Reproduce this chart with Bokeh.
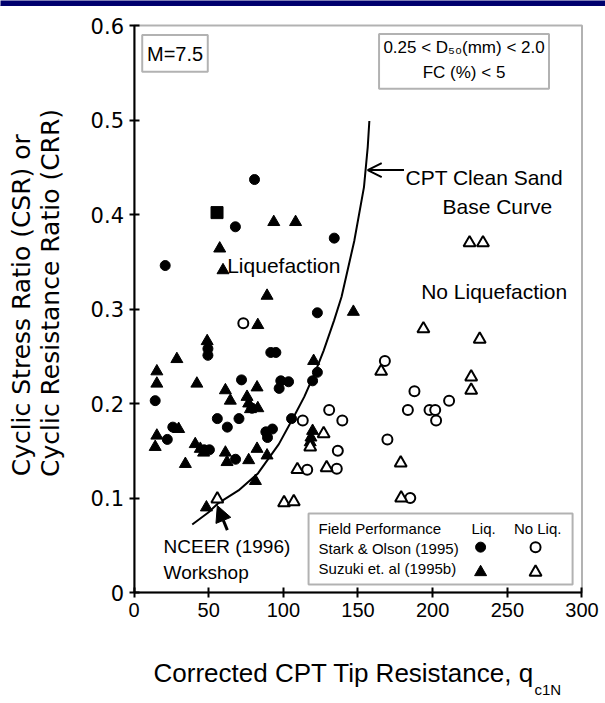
import math
from bokeh.plotting import figure
from bokeh.models import (Label, BoxAnnotation, Arrow, OpenHead, NormalHead, FixedTicker,
                          CustomJSTickFormatter, Range1d)
from bokeh.embed import file_html
from bokeh.resources import INLINE

# ---------------- data ----------------
x_ticks = [0, 50, 100, 150, 200, 250, 300]
y_ticks = [0, 0.1, 0.2, 0.3, 0.4, 0.5, 0.6]

# CPT clean sand base curve
curve_x = [39, 50, 56, 70, 83, 97, 107, 114, 121, 127, 134, 139, 147.5, 154, 156.5, 157.6]
curve_y = [0.072, 0.085, 0.094, 0.108, 0.126, 0.157, 0.186, 0.207, 0.232, 0.256, 0.288, 0.313, 0.372, 0.429, 0.471, 0.499]

# Stark & Olson (1995) - liquefaction (filled circles)
stark_liq_x = [80.7, 67.9, 134.1, 20.9, 122.8, 49.5, 49.5, 91.6, 95.0, 14.2, 72.0, 97.2, 98.3, 103.5,
               119.6, 122.8, 55.8, 62.5, 70.3, 105.5, 88.3, 92.7, 89.4, 79.0, 22.3, 26.0, 47.0, 50.5, 68.0]
stark_liq_y = [0.437, 0.387, 0.375, 0.346, 0.296, 0.258, 0.251, 0.254, 0.254, 0.203, 0.225, 0.216, 0.224, 0.223,
               0.224, 0.233, 0.184, 0.175, 0.184, 0.184, 0.170, 0.173, 0.164, 0.195, 0.162, 0.175, 0.151, 0.151, 0.141]

# Stark & Olson (1995) - no liquefaction (open circles)
stark_noliq_x = [73.2, 113.0, 130.7, 139.5, 136.5, 116.0, 135.8, 168.0, 187.8, 183.4, 169.7, 197.9, 201.7,
                 202.3, 211.0, 185.0]
stark_noliq_y = [0.285, 0.182, 0.193, 0.182, 0.150, 0.130, 0.131, 0.245, 0.213, 0.193, 0.162, 0.193, 0.193,
                 0.182, 0.203, 0.100]

# Suzuki et al (1995b) - liquefaction (filled triangles)
suzuki_liq_x = [93.6, 108.2, 57.4, 59.6, 89.1, 82.9, 146.9, 49.0, 28.7, 15.3, 15.3, 42.1, 82.4, 61.2, 64.5,
                75.7, 76.8, 78.0, 82.9, 120.3, 15.3, 14.2, 29.9, 41.0, 44.4, 46.6, 34.4, 61.2, 62.3, 76.8,
                82.4, 89.1, 81.3, 48.5, 119.6, 118.5, 118.0]
suzuki_liq_y = [0.392, 0.392, 0.364, 0.341, 0.314, 0.283, 0.297, 0.266, 0.247, 0.234, 0.221, 0.221, 0.217, 0.214,
                0.203, 0.207, 0.200, 0.194, 0.195, 0.245, 0.166, 0.154, 0.173, 0.157, 0.152, 0.148, 0.136,
                0.148, 0.138, 0.140, 0.152, 0.145, 0.118, 0.090, 0.171, 0.164, 0.159]

# Suzuki et al (1995b) - no liquefaction (open triangles)
suzuki_noliq_x = [55.8, 100.5, 107.0, 109.4, 129.0, 127.0, 118.0, 165.5, 178.6, 178.9, 193.8, 231.5, 225.8,
                  225.8, 224.7, 233.7]
suzuki_noliq_y = [0.099, 0.095, 0.096, 0.130, 0.132, 0.168, 0.154, 0.234, 0.137, 0.100, 0.279, 0.268, 0.228,
                  0.214, 0.370, 0.370]

# single filled square
square_x = [55.6]
square_y = [0.402]

FONT = "Liberation Sans"
X_LO, X_HI = -89.40, 315.74
Y_LO, Y_HI = -0.11746, 0.62646
BANNER_BOTTOM = 0.6212

# frame covers the whole canvas; axes are pinned at x=0 / y=0
p = figure(width=605, height=703, x_range=Range1d(X_LO, X_HI), y_range=Range1d(Y_LO, Y_HI),
           output_backend="svg", toolbar_location=None,
           min_border=0, min_border_left=0, min_border_right=0, min_border_top=0, min_border_bottom=0)
p.xgrid.visible = False
p.ygrid.visible = False
p.outline_line_color = "white"
p.outline_line_alpha = 1
p.outline_line_width = 1
p.background_fill_color = "white"
p.border_fill_color = "white"

for ax in (p.xaxis, p.yaxis):
    ax.fixed_location = 0
    ax.axis_line_width = 2
    ax.axis_line_color = "black"
    ax.major_tick_line_width = 2
    ax.major_tick_line_color = "black"
    ax.major_tick_in = 5
    ax.major_tick_out = 5
    ax.minor_tick_in = 0
    ax.minor_tick_out = 0
    ax.major_label_text_color = "black"

p.xaxis.bounds = (0, 300)
p.xaxis.ticker = FixedTicker(ticks=x_ticks)
p.xaxis.major_label_text_font = FONT
p.xaxis.major_label_text_font_size = "20px"
p.xaxis.major_label_standoff = 5

p.yaxis.bounds = (0, 0.6)
p.yaxis.ticker = FixedTicker(ticks=y_ticks)
p.yaxis.formatter = CustomJSTickFormatter(code="return tick == 0 ? '0' : tick.toFixed(1);")
p.yaxis.major_label_text_font = "DejaVu Sans"
p.yaxis.major_label_text_font_size = "21px"
p.yaxis.major_label_standoff = 5

# top banner (glyph) and plot frame
p.quad(left=[X_LO - 5], right=[X_HI + 5], bottom=[BANNER_BOTTOM], top=[Y_HI + 0.01],
       fill_color="#00006e", line_color="#00006e")
p.add_layout(BoxAnnotation(left=0, right=300, bottom=0, top=0.6, fill_alpha=0,
                           line_color="black", line_width=2))

# curve
p.line(curve_x, curve_y, line_width=2, line_color="black")

# points
p.scatter(stark_liq_x, stark_liq_y, marker="circle", size=10, fill_color="black", line_color="black")
p.scatter(stark_noliq_x, stark_noliq_y, marker="circle", size=10, fill_color="white",
          line_color="black", line_width=2)
p.scatter(suzuki_liq_x, suzuki_liq_y, marker="triangle", size=12, fill_color="black", line_color="black")
p.scatter(suzuki_noliq_x, suzuki_noliq_y, marker="triangle", size=12, fill_color="white",
          line_color="black", line_width=2)
p.scatter(square_x, square_y, marker="square", size=12, fill_color="black", line_color="black")

# boxes
p.add_layout(BoxAnnotation(left=5.5, right=49.4, top=0.590, bottom=0.551, fill_color="white", fill_alpha=1,
                           line_color="black", line_width=2))
p.add_layout(BoxAnnotation(left=164.1, right=277.9, top=0.591, bottom=0.533, fill_color="white", fill_alpha=1,
                           line_color="black", line_width=2))
p.add_layout(BoxAnnotation(left=116.9, right=293.7, top=0.0836, bottom=0.0085, fill_alpha=0,
                           line_color="black", line_width=2))


def lab(x, y, text, size, font=FONT, align="left", baseline="middle", angle=0):
    p.add_layout(Label(x=x, y=y, text=text, text_font=font, text_font_size=size, text_align=align,
                       text_baseline=baseline, angle=angle, text_color="black"))


lab(27.5, 0.570, "M=7.5", "20px", align="center")
lab(221.0, 0.577, "0.25 < D\u2085\u2080(mm) < 2.0", "17px", align="center")
lab(221.0, 0.550, "FC (%) < 5", "17px", align="center")

lab(62.4, 0.346, "Liquefaction", "21px")
lab(192.3, 0.318, "No Liquefaction", "21px")
lab(181.8, 0.4395, "CPT Clean Sand", "21px")
lab(243.3, 0.408, "Base Curve", "21px", align="center")
lab(19.8, 0.0487, "NCEER (1996)", "19px")
lab(19.8, 0.0212, "Workshop", "19px")

# legend contents
lab(123.6, 0.068, "Field Performance", "15px")
lab(123.6, 0.0466, "Stark & Olson (1995)", "15px")
lab(123.6, 0.0254, "Suzuki et. al (1995b)", "15px")
lab(234.1, 0.068, "Liq.", "15px", align="center")
lab(270.3, 0.068, "No Liq.", "15px", align="center")
p.scatter([232.1], [0.048], marker="circle", size=10, fill_color="black", line_color="black")
p.scatter([268.9], [0.048], marker="circle", size=10, fill_color="white", line_color="black", line_width=2)
p.scatter([232.1], [0.0215], marker="triangle", size=12, fill_color="black", line_color="black")
p.scatter([268.9], [0.0215], marker="triangle", size=12, fill_color="white", line_color="black", line_width=2)

# arrows
p.add_layout(Arrow(end=OpenHead(size=14, line_width=2, line_color="black"),
                   x_start=180.8, y_start=0.447, x_end=156.5, y_end=0.447,
                   line_width=2, line_color="black"))
p.add_layout(Arrow(end=NormalHead(size=16, fill_color="black", line_color="black"),
                   x_start=62.5, y_start=0.066, x_end=55.8, y_end=0.092,
                   line_width=3, line_color="black"))

# axis titles
lab(-75.3, 0.304, "Cyclic Stress Ratio (CSR) or", "25px", font="DejaVu Sans", align="center", angle=math.pi / 2)
lab(-55.9, 0.317, "Cyclic Resistance Ratio (CRR)", "25px", font="DejaVu Sans", align="center", angle=math.pi / 2)
lab(13.1, -0.0857, "Corrected CPT Tip Resistance, q", "26px")
lab(268.2, -0.1030, "c1N", "15px")

open("out.html", "w").write(file_html(p, INLINE))
